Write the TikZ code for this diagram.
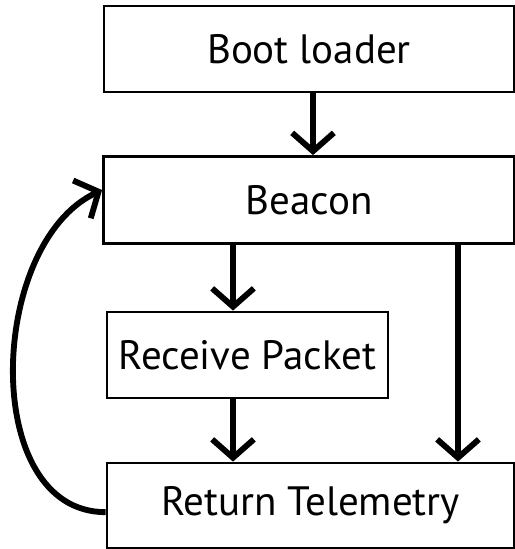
\documentclass[tikz,border=0pt]{standalone}
\usepackage{fontspec}
\setmainfont{PT Sans}
\usetikzlibrary{arrows.meta}

\begin{document}
\begin{tikzpicture}[
  x=0.03cm, y=-0.03cm,
  block/.style={draw, line width=2.4pt, inner sep=0pt, font=\fontsize{35}{40}\selectfont},
  flow/.style={line width=5pt, -{Straight Barb[length=0.55cm, width=1.25cm]}},
]
  \useasboundingbox (0,0) rectangle (515,549);

  % --- blocks ---
  \node[block, minimum width=410*0.03cm, minimum height=86*0.03cm] (boot) at (309, 49)    {Boot loader};
  \node[block, minimum width=411*0.03cm, minimum height=87*0.03cm] (beacon) at (309, 200) {Beacon};
  \node[block, minimum width=281*0.03cm, minimum height=86*0.03cm] (recv) at (247.5, 355) {Receive Packet};
  \node[block, minimum width=407*0.03cm, minimum height=85*0.03cm] (ret) at (310.5, 505.5) {Return Telemetry};

  \coordinate (left) at (233, 0);
  \coordinate (right) at (458, 0);

  % --- arrows ---
  \draw[flow] (boot.south -| 313,0) -- (beacon.north -| 313,0);
  \draw[flow] (beacon.south -| left) -- (recv.north -| left);
  \draw[flow] (recv.south -| left) -- (ret.north -| left);
  \draw[flow] (beacon.south -| right) -- (ret.north -| right);

  % loop back
  \draw[flow] ([yshift=-0.2cm]ret.west) to[out=180, in=205] ([yshift=0.3cm]beacon.west);
\end{tikzpicture}
\end{document}
